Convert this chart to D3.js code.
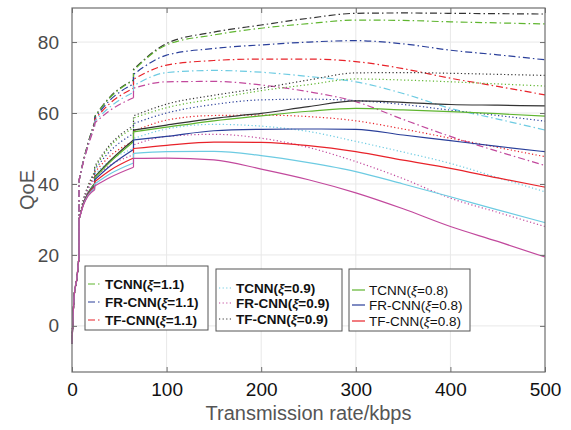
<!DOCTYPE html>
<html>
<head>
<meta charset="utf-8">
<script src="https://cdn.jsdelivr.net/npm/d3@7"></script>
<style>
  body { margin: 0; background: #fff; }
  text { font-family: Arial, "Liberation Sans", sans-serif; }
</style>
</head>
<body>
<script>
// x positions (kbps), split in segments at the jumps
var segX = [
  [0, 1, 2.5, 5, 7.5],
  [7.5, 12, 17, 24],
  [24, 40, 65],
  [65, 100, 150, 200, 250, 300, 350, 400, 450, 500]
];

// start of the curve, common to every series
var startVals = [-5, 2, 9, 13, 20];

// dash-dot series (seg2, seg3, seg4)
var ddBlack   = [[41, 46.5, 51.5, 57.5], [59.0, 64.5, 69.3], [72.3, 79.6, 82.8, 84.8, 86.7, 88.1, 88.2, 88.1, 88.0, 87.9]];
var ddGreen   = [[41, 46.5, 51.5, 57.4], [59.0, 64.3, 69.2], [72.0, 79.2, 82.0, 83.9, 85.2, 86.2, 86.1, 85.7, 85.4, 85.1]];
var ddBlue    = [[41, 46.4, 51.3, 57.2], [58.6, 63.6, 68.2], [70.9, 76.3, 78.2, 79.2, 80.0, 80.4, 79.5, 77.7, 76.4, 75.0]];
var ddRed     = [[41, 46.3, 51.1, 56.9], [58.2, 62.7, 67.0], [69.5, 73.5, 74.8, 75.2, 75.2, 74.5, 72.5, 69.8, 67.5, 65.1]];
var ddCyan    = [[41, 46.2, 50.9, 56.6], [57.7, 61.7, 65.8], [67.7, 71.4, 72.0, 71.5, 70.3, 68.8, 65.5, 61.3, 58.3, 55.2]];
var ddMagenta = [[41, 46.1, 50.7, 56.2], [57.2, 60.7, 64.3], [67.0, 68.8, 68.9, 67.9, 66.0, 63.2, 58.2, 53.4, 49.2, 45.2]];

// dotted series
var dtBlack   = [[30, 35.5, 39.5, 43.5], [45.0, 51.0, 56.4], [59.2, 62.5, 65.0, 67.0, 69.3, 71.3, 71.4, 71.2, 70.9, 70.6]];
var dtGreen   = [[30, 35.4, 39.3, 43.2], [44.5, 50.5, 55.8], [58.6, 61.5, 64.0, 66.3, 68.0, 69.6, 69.3, 68.8, 68.2, 67.6]];
var dtBlue    = [[30, 35.3, 39.1, 42.8], [44.0, 49.2, 54.2], [57.0, 60.0, 62.4, 63.7, 63.9, 63.5, 62.4, 60.8, 59.3, 57.7]];
var dtRed     = [[30, 35.2, 38.9, 42.3], [43.3, 47.8, 52.0], [54.8, 58.0, 59.3, 59.4, 59.0, 57.8, 55.5, 52.9, 50.3, 47.7]];
var dtCyan    = [[30, 35.1, 38.7, 41.8], [42.7, 46.5, 50.0], [52.8, 55.5, 56.8, 56.3, 54.8, 52.0, 49.0, 45.8, 41.8, 37.8]];
var dtMagenta = [[30, 35.0, 38.5, 41.3], [42.0, 45.2, 48.2], [51.0, 53.4, 54.0, 52.9, 50.3, 46.3, 41.5, 36.0, 32.0, 28.0]];

// solid series
var slBlack   = [[30, 34.5, 37.5, 40.2], [42.0, 46.5, 52.4], [55.2, 56.6, 58.5, 59.9, 61.8, 63.4, 63.0, 62.4, 62.2, 62.0]];
var slGreen   = [[30, 34.4, 37.4, 40.0], [41.7, 46.1, 51.9], [54.7, 56.0, 57.8, 59.2, 60.5, 61.3, 60.9, 60.4, 59.8, 59.1]];
var slBlue    = [[30, 34.3, 37.2, 39.6], [41.2, 45.0, 49.7], [52.4, 53.4, 55.0, 55.4, 55.5, 55.4, 53.8, 52.2, 50.6, 49.1]];
var slRed     = [[30, 34.2, 37.0, 39.2], [40.6, 43.8, 47.3], [50.0, 50.9, 51.8, 51.7, 50.8, 49.1, 46.7, 44.4, 41.7, 39.1]];
var slCyan    = [[30, 34.1, 36.8, 38.8], [40.0, 42.8, 45.9], [48.6, 49.1, 49.2, 48.0, 46.0, 43.5, 40.0, 36.4, 32.7, 29.1]];
var slMagenta = [[30, 34.0, 36.6, 38.4], [39.4, 41.8, 44.7], [47.2, 47.3, 46.8, 44.2, 41.2, 37.5, 33.0, 28.0, 23.8, 19.4]];

var xTicks = [0, 100, 200, 300, 400, 500];
var yTicks = [0, 20, 40, 60, 80];

var legendNames = ['TCNN', 'FR-CNN', 'TF-CNN'];

var colors = {
  black: '#333333', green: '#5fb52f', blue: '#2a3f9a',
  red: '#e8232a', cyan: '#6dcbe2', magenta: '#c2499d'
};

var series = [
  {vals: ddBlack, c: 'black', s: 'dd'}, {vals: ddGreen, c: 'green', s: 'dd'},
  {vals: ddBlue, c: 'blue', s: 'dd'}, {vals: ddRed, c: 'red', s: 'dd'},
  {vals: ddCyan, c: 'cyan', s: 'dd'}, {vals: ddMagenta, c: 'magenta', s: 'dd'},
  {vals: dtBlack, c: 'black', s: 'dt'}, {vals: dtGreen, c: 'green', s: 'dt'},
  {vals: dtBlue, c: 'blue', s: 'dt'}, {vals: dtRed, c: 'red', s: 'dt'},
  {vals: dtCyan, c: 'cyan', s: 'dt'}, {vals: dtMagenta, c: 'magenta', s: 'dt'},
  {vals: slBlack, c: 'black', s: 'sl'}, {vals: slGreen, c: 'green', s: 'sl'},
  {vals: slBlue, c: 'blue', s: 'sl'}, {vals: slRed, c: 'red', s: 'sl'},
  {vals: slCyan, c: 'cyan', s: 'sl'}, {vals: slMagenta, c: 'magenta', s: 'sl'}
];

var dashes = {dd: '7,3,1.5,3', dt: '1.2,2.4', sl: null};

var width = 571, height = 430;
var margin = {left: 72, right: 26, top: 8, bottom: 58};

var svg = d3.select('body').append('svg')
    .attr('width', width)
    .attr('height', height);

var x = d3.scaleLinear().domain([0, 500]).range([margin.left, width - margin.right]);
var y = d3.scaleLinear().domain([-13, 89.6]).range([height - margin.bottom, margin.top]);

// grid
svg.append('g').selectAll('line')
  .data(xTicks.slice(1, -1)).enter().append('line')
    .attr('x1', function(d) { return x(d); }).attr('x2', function(d) { return x(d); })
    .attr('y1', y.range()[0]).attr('y2', y.range()[1])
    .attr('stroke', '#e8e8e8').attr('stroke-width', 1);
svg.append('g').selectAll('line')
  .data(yTicks).enter().append('line')
    .attr('x1', x.range()[0]).attr('x2', x.range()[1])
    .attr('y1', function(d) { return y(d); }).attr('y2', function(d) { return y(d); })
    .attr('stroke', '#e8e8e8').attr('stroke-width', 1);

// curves
var line = d3.line()
    .x(function(d) { return x(d[0]); })
    .y(function(d) { return y(d[1]); })
    .curve(d3.curveMonotoneX);

function buildPath(vals) {
  var segs = [startVals].concat(vals);
  var path = '';
  var prevEnd = null;
  segs.forEach(function(seg, i) {
    var pts = segX[i].map(function(xv, j) { return [xv, seg[j]]; });
    var d = line(pts);
    if (prevEnd) {
      // vertical jump joining the previous segment
      d = 'M' + x(prevEnd[0]) + ',' + y(prevEnd[1]) + 'L' + d.slice(1);
    }
    path += d;
    prevEnd = pts[pts.length - 1];
  });
  return path;
}

svg.append('g').selectAll('path')
  .data(series).enter().append('path')
    .attr('d', function(d) { return buildPath(d.vals); })
    .attr('fill', 'none')
    .attr('stroke', function(d) { return colors[d.c]; })
    .attr('stroke-width', 1.2)
    .attr('stroke-dasharray', function(d) { return dashes[d.s]; });

// axes box
var axisColor = '#6e6e6e';
svg.append('rect')
    .attr('x', x.range()[0]).attr('y', y.range()[1])
    .attr('width', x.range()[1] - x.range()[0])
    .attr('height', y.range()[0] - y.range()[1])
    .attr('fill', 'none').attr('stroke', axisColor).attr('stroke-width', 1.2);

var xAxis = svg.append('g')
    .attr('transform', 'translate(0,' + y.range()[0] + ')')
    .call(d3.axisBottom(x).tickValues(xTicks).tickSizeInner(-5).tickSizeOuter(0).tickPadding(11));
var xAxisTop = svg.append('g')
    .attr('transform', 'translate(0,' + y.range()[1] + ')')
    .call(d3.axisTop(x).tickValues(xTicks).tickSizeInner(-5).tickSizeOuter(0).tickFormat(''));
var yAxis = svg.append('g')
    .attr('transform', 'translate(' + x.range()[0] + ',0)')
    .call(d3.axisLeft(y).tickValues(yTicks).tickSizeInner(-5).tickSizeOuter(0).tickPadding(13));
var yAxisRight = svg.append('g')
    .attr('transform', 'translate(' + x.range()[1] + ',0)')
    .call(d3.axisRight(y).tickValues(yTicks).tickSizeInner(-5).tickSizeOuter(0).tickFormat(''));

[xAxis, xAxisTop, yAxis, yAxisRight].forEach(function(a) {
  a.select('.domain').remove();
  a.selectAll('.tick line').attr('stroke', axisColor);
});
xAxis.selectAll('text').attr('font-size', 19).attr('fill', '#111');
yAxis.selectAll('text').attr('font-size', 19).attr('fill', '#4a4a4a');

svg.append('text')
    .attr('x', (x.range()[0] + x.range()[1]) / 2)
    .attr('y', 420)
    .attr('text-anchor', 'middle')
    .attr('font-size', 20)
    .attr('fill', '#555')
    .text('Transmission rate/kbps');

svg.append('text')
    .attr('transform', 'translate(34,' + (y.range()[0] + y.range()[1]) / 2 + ') rotate(-90)')
    .attr('text-anchor', 'middle')
    .attr('font-size', 20)
    .attr('fill', '#555')
    .text('QoE');

// legends
var legends = [
  {x: 85, y: 266, w: 123, h: 64, xi: '1.1', s: 'dd', cols: ['green', 'blue', 'red'], rows: [284, 302, 320], bold: true},
  {x: 216, y: 269, w: 126, h: 62, xi: '0.9', s: 'dt', cols: ['cyan', 'magenta', 'black'], rows: [288, 303, 319], bold: true},
  {x: 349, y: 269, w: 121, h: 62, xi: '0.8', s: 'sl', cols: ['green', 'blue', 'red'], rows: [290, 305, 321], bold: false}
];

legends.forEach(function(L) {
  var g = svg.append('g');
  g.append('rect')
      .attr('x', L.x).attr('y', L.y).attr('width', L.w).attr('height', L.h)
      .attr('fill', '#fff').attr('stroke', '#555').attr('stroke-width', 1);
  legendNames.forEach(function(name, i) {
    g.append('line')
        .attr('x1', L.x + 3).attr('x2', L.x + 16)
        .attr('y1', L.rows[i]).attr('y2', L.rows[i])
        .attr('stroke', colors[L.cols[i]])
        .attr('stroke-width', 1.2)
        .attr('stroke-dasharray', dashes[L.s]);
    var t = g.append('text')
        .attr('x', L.x + 20).attr('y', L.rows[i] + 5)
        .attr('font-size', 13.5)
        .attr('font-weight', L.bold ? 'bold' : 'normal')
        .attr('fill', '#111');
    t.append('tspan').text(name + '(');
    t.append('tspan').attr('font-style', 'italic').text('ξ');
    t.append('tspan').text('=' + L.xi + ')');
  });
});
</script>
</body>
</html>
